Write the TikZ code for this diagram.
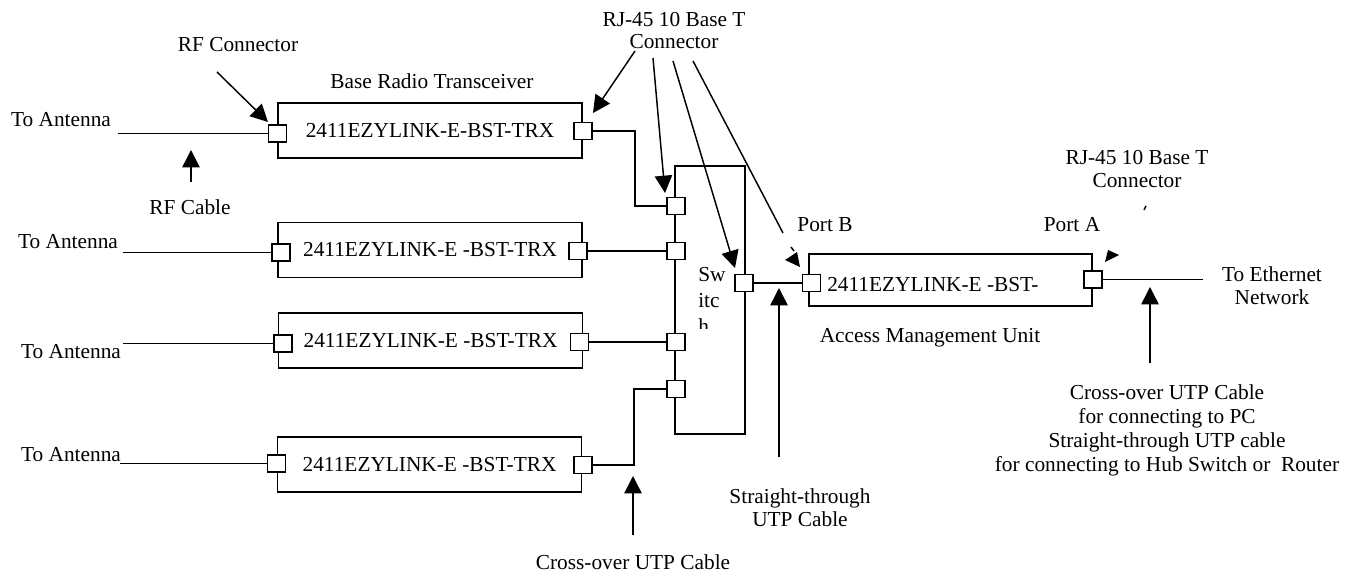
\documentclass[tikz,border=0pt]{standalone}
\usepackage{fontspec}
\setmainfont{Liberation Serif}
\usetikzlibrary{arrows.meta}
\begin{document}
\begin{tikzpicture}[x=0.75pt,y=-0.75pt,
  every node/.style={font=\fontsize{16}{18}\selectfont, inner sep=0pt},
  unit/.style={draw, line width=1.1pt, minimum width=228pt, minimum height=41.25pt},
  port/.style={draw, fill=white, line width=1.1pt, minimum width=13.5pt, minimum height=12.75pt},
  wire/.style={line width=1.1pt},
  pointer/.style={line width=1.1pt, -{Triangle[length=13pt,width=13pt]}},
  stray/.style={fill=black},
  lbl/.style={align=center}]
\useasboundingbox (0,0) rectangle (1361,577);

% switch and units
\node[draw, line width=1.1pt, minimum width=52.5pt, minimum height=201pt] (sw) at (710,300) {};
\node[unit] (b1) at (430,130.5) {2411EZYLINK-E-BST-TRX};
\node[unit] (b2) at (430,250) {2411EZYLINK-E -BST-TRX};
\node[unit] (b3) at (430.5,340.5) {2411EZYLINK-E -BST-TRX};
\node[unit] (b4) at (429.5,464.5) {2411EZYLINK-E -BST-TRX};
\node[draw, line width=1.1pt, minimum width=212.25pt, minimum height=39pt] (amu) at (950.5,280) {};
\node[anchor=base west] (amutext) at (827,292) {2411EZYLINK-E -BST-};

% ports
\node[port] (L1) at (277.5,133.5) {};
\node[port] (R1) at (583,131) {};
\node[port] (L2) at (281,252.5) {};
\node[port] (R2) at (578,251) {};
\node[port] (L3) at (283,343.5) {};
\node[port] (R3) at (579.5,342) {};
\node[port] (L4) at (276.5,463.5) {};
\node[port] (R4) at (583,465) {};
\node[port] (S1) at (676,206) {};
\node[port] (S2) at (676,251) {};
\node[port] (S3) at (676,342) {};
\node[port] (S4) at (676,389) {};
\node[port] (SR) at (744,283) {};
\node[port] (AL) at (811.5,283) {};
\node[port] (AR) at (1093,279.5) {};

% free ends
\coordinate (a1) at (118,133.5);
\coordinate (a2) at (123,252.5);
\coordinate (a3) at (123,343.5);
\coordinate (a4) at (120,463.5);
\coordinate (k1) at (635,206);
\coordinate (k4) at (634,389);
\coordinate (eth) at (1203,279.5);

% wires
\draw[wire] (a1) -- (L1.west);
\draw[wire] (a2) -- (L2.west);
\draw[wire] (a3) -- (L3.west);
\draw[wire] (a4) -- (L4.west);
\draw[wire] (R1.east) -| (k1) -- (S1.west);
\draw[wire] (R2.east) -- (S2.west);
\draw[wire] (R3.east) -- (S3.west);
\draw[wire] (R4.east) -| (k4) -- (S4.west);
\draw[wire] (SR.east) -- (AL.west);
\draw[wire] (AR.east) -- (eth);

% labels
\node (rfc) at (238,45) {RF Connector};
\node (brt) at (432,81) {Base Radio Transceiver};
\node[lbl, font=\fontsize{16}{16.5}\selectfont] (rj1) at (674,31) {RJ-45 10 Base T\\Connector};
\node (ta1) at (61,120) {To Antenna};
\node (rfcab) at (190,207) {RF Cable};
\node (ta2) at (68,242) {To Antenna};
\node (ta3) at (71,352) {To Antenna};
\node (ta4) at (71,455) {To Antenna};
\node (portb) at (825,225) {Port B};
\node (porta) at (1072,225) {Port A};
\node[lbl, font=\fontsize{16}{17}\selectfont] (rj2) at (1137,169) {RJ-45 10 Base T\\Connector};
\node[lbl, font=\fontsize{16}{17}\selectfont] (ethl) at (1272,286) {To Ethernet\\Network};
\node (amul) at (930,338) {Access Management Unit};
\node (xover) at (633,562) {Cross-over UTP Cable};
\node[lbl, font=\fontsize{16}{17}\selectfont] (strl) at (800,508) {Straight-through\\UTP Cable};
\node[lbl, font=\fontsize{16}{18}\selectfont] (pcl) at (1167,430) {Cross-over UTP Cable\\for connecting to PC\\Straight-through UTP cable\\for connecting to Hub Switch or~~Router};

% clipped switch label
\begin{scope}
\clip (690,262) rectangle (733,329);
\node[anchor=base west] (swa) at (698,282) {Sw};
\node[anchor=base west] (swb) at (698,308) {itc};
\node[anchor=base west] (swc) at (698,334) {h};
\end{scope}

% pointer arrows
\coordinate (p1s) at (217,72);   \coordinate (p1e) at (268,122);
\coordinate (p2s) at (191,182);  \coordinate (p2e) at (191,150);
\coordinate (p3s) at (635,51);   \coordinate (p3e) at (593,113);
\coordinate (p4s) at (653,58);   \coordinate (p4e) at (665,193);
\coordinate (p5s) at (673,61);   \coordinate (p5e) at (735,268);
\coordinate (p6s) at (693,61);   \coordinate (p6e) at (783,233);
\coordinate (p7s) at (633,535);  \coordinate (p7e) at (633,476);
\coordinate (p8s) at (779,457);  \coordinate (p8e) at (779,288);
\coordinate (p9s) at (1150,363); \coordinate (p9e) at (1150,287);
\draw[pointer] (p1s) -- (p1e);
\draw[pointer] (p2s) -- (p2e);
\draw[pointer] (p3s) -- (p3e);
\draw[pointer] (p4s) -- (p4e);
\draw[pointer] (p5s) -- (p5e);
\draw[wire] (p6s) -- (p6e);
\draw[pointer] (p7s) -- (p7e);
\draw[pointer] (p8s) -- (p8e);
\draw[pointer] (p9s) -- (p9e);

% stray arrow fragments
\fill[stray] (785,260) -- (797,252) -- (800,267) -- cycle;
\draw[wire] (791,247) -- (794,251);
\fill[stray] (1105,262) -- (1108,250) -- (1119,255) -- cycle;
\draw[wire] (1144,210) -- (1146,206);
\end{tikzpicture}
\end{document}
